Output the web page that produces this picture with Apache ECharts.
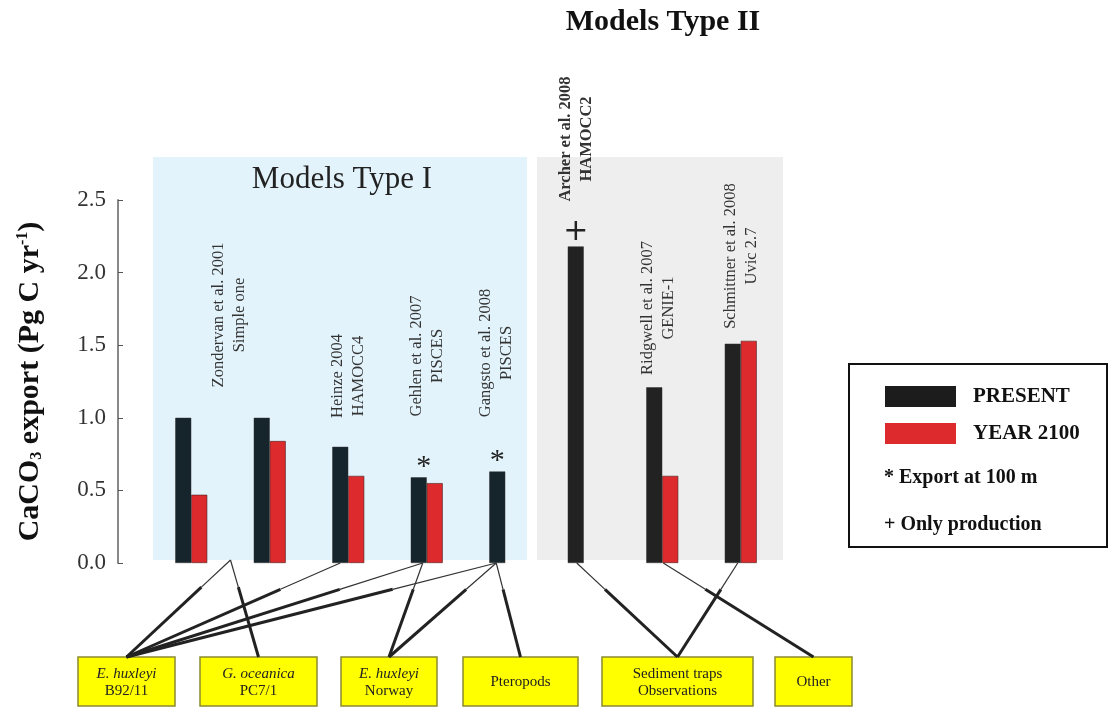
<!DOCTYPE html>
<html>
<head>
<meta charset="utf-8">
<title>CaCO3 export</title>
<script src="https://cdn.jsdelivr.net/npm/echarts@6/dist/echarts.min.js"></script>
<style>
  html, body { margin: 0; padding: 0; background: #fff; }
  #main { width: 1109px; height: 708px; }
</style>
</head>
<body>
<div id="main"></div>
<script>
// data
const categories = ['Zondervan B92/11', 'Zondervan PC7/1', 'Heinze 2004', 'Gehlen 2007',
  'Gangsto 2008', 'Archer 2008', 'Ridgwell 2007', 'Schmittner 2008'];
const presentValues = [1.0, 1.0, 0.8, 0.59, 0.63, 2.18, 1.21, 1.51];
const year2100Values = [0.47, 0.84, 0.6, 0.55, null, null, 0.6, 1.53];
const markers = ['', '', '', '*', '*', '+', '', ''];
const yTicks = [0, 0.5, 1.0, 1.5, 2.0, 2.5];

const modelLabels = [
  'Zondervan et al. 2001\nSimple one',
  'Heinze 2004\nHAMOCC4',
  'Gehlen et al. 2007\nPISCES',
  'Gangsto et al. 2008\nPISCES',
  'Archer et al. 2008\nHAMOCC2',
  'Ridgwell et al. 2007\nGENIE-1',
  'Schmittner et al. 2008\nUvic 2.7'
];
const boxLabels = [
  ['E. huxleyi', 'B92/11'],
  ['G. oceanica', 'PC7/1'],
  ['E. huxleyi', 'Norway'],
  ['', 'Pteropods'],
  ['Sediment traps', 'Observations'],
  ['', 'Other']
];
// [category index (0.5 = between first two), box index]
const links = [
  [0.5, 0], [0.5, 1], [2, 0], [3, 0], [3, 2], [4, 0], [4, 2], [4, 3],
  [5, 4], [7, 4], [6, 5]
];

const chart = echarts.init(document.getElementById('main'));
const serif = 'Liberation Serif';

const option = {
  animation: false,
  grid: { left: 152, right: 329, top: 200, bottom: 145 },
  legend: {
    orient: 'vertical',
    left: 880,
    top: 381,
    icon: 'rect',
    itemWidth: 71,
    itemHeight: 21,
    itemGap: 16,
    selectedMode: false,
    itemStyle: { borderWidth: 0 },
    data: ['PRESENT', 'YEAR 2100'],
    textStyle: { fontFamily: serif, fontWeight: 'bold', fontSize: 21, color: '#111', padding: [0, 0, 0, 12] }
  },
  xAxis: {
    type: 'category',
    data: categories,
    axisLine: { show: false },
    axisTick: { show: false },
    axisLabel: { show: false }
  },
  yAxis: {
    type: 'value',
    min: 0,
    max: 2.5,
    interval: 0.5,
    offset: 34,
    splitLine: { show: false },
    axisLine: { show: true, lineStyle: { color: '#888', width: 2 } },
    axisTick: { show: true, inside: true, length: 5, lineStyle: { color: '#555' } },
    axisLabel: {
      margin: 12,
      fontFamily: serif,
      fontSize: 23,
      color: '#333',
      formatter: v => yTicks.includes(v) ? v.toFixed(1) : ''
    },
    name: '{b|CaCO}{sub|3}{b| export (Pg C yr}{sup|-1}{b|)}',
    nameLocation: 'middle',
    nameRotate: 90,
    nameGap: 73,
    nameTextStyle: {
      rich: {
        b: { fontFamily: serif, fontWeight: 'bold', fontSize: 30, color: '#111' },
        sub: { fontFamily: serif, fontWeight: 'bold', fontSize: 16, color: '#111', verticalAlign: 'bottom', padding: [13, 0, 0, 0] },
        sup: { fontFamily: serif, fontWeight: 'bold', fontSize: 16, color: '#111', verticalAlign: 'top', padding: [0, 0, 13, 0] }
      }
    }
  },
  series: [
    {
      name: 'PRESENT',
      type: 'bar',
      barWidth: 16,
      barGap: 0,
      itemStyle: { color: '#1c1c1c' },
      data: presentValues.map((v, i) => ({
        value: v,
        itemStyle: { color: i < 5 ? '#16242c' : '#222222', borderColor: '#333', borderWidth: 0.5 },
        label: {
          show: markers[i] !== '',
          position: 'top',
          distance: markers[i] === '+' ? -1 : -5,
          offset: i === 3 ? [5, 0] : [0, 0],
          formatter: markers[i],
          fontFamily: markers[i] === '+' ? 'DejaVu Sans' : serif,
          fontSize: 30,
          color: '#222'
        }
      }))
    },
    {
      name: 'YEAR 2100',
      type: 'bar',
      barWidth: 16,
      itemStyle: { color: '#dd2a2c', borderColor: '#4a2020', borderWidth: 0.6 },
      data: year2100Values
    }
  ]
};

chart.setOption(option);

// category pixel centres, for labels and connectors
const cx = i => {
  const a = chart.convertToPixel({ xAxisIndex: 0 }, categories[Math.floor(i)]);
  if (i % 1 === 0) return a;
  const b = chart.convertToPixel({ xAxisIndex: 0 }, categories[Math.ceil(i)]);
  return a + (b - a) * (i % 1);
};
const y0 = chart.convertToPixel({ yAxisIndex: 0 }, 0);
const yTop = chart.convertToPixel({ yAxisIndex: 0 }, 2.5);

const g = [];

// panels
g.push({ type: 'rect', z: -10, shape: { x: 153, y: yTop - 43, width: 374, height: y0 - yTop + 40 }, style: { fill: '#e2f3fb' } });
g.push({ type: 'rect', z: -10, shape: { x: 537, y: yTop - 43, width: 246, height: y0 - yTop + 40 }, style: { fill: '#eeeeee' } });

// titles
g.push({ type: 'text', x: 342, y: 180, style: { text: 'Models Type I', fontFamily: serif, fontSize: 31, fill: '#222', align: 'center', verticalAlign: 'middle' } });
g.push({ type: 'text', x: 663, y: 22, style: { text: 'Models Type II', fontFamily: serif, fontWeight: 'bold', fontSize: 30, fill: '#111', align: 'center', verticalAlign: 'middle' } });

// rotated model labels: [x, centre y]
const labelPos = [
  [cx(0.5) - 1, 315], [cx(2), 376], [cx(3), 356], [cx(4) - 9, 353],
  [cx(5) - 8, 139], [cx(6) - 4, 308], [cx(7), 256]
];
modelLabels.forEach((t, i) => {
  g.push({
    type: 'text', x: labelPos[i][0], y: labelPos[i][1], rotation: Math.PI / 2,
    style: {
      text: t, fontFamily: serif, fontSize: 16.5, fill: '#333', align: 'center', verticalAlign: 'middle',
      lineHeight: 21, fontWeight: i === 4 ? 'bold' : 'normal'
    }
  });
});

// legend frame and notes
g.push({ type: 'rect', z: -5, shape: { x: 849, y: 364, width: 258, height: 183 }, style: { fill: '#fff', stroke: '#111', lineWidth: 2 } });
g.push({ type: 'text', x: 884, y: 478, style: { text: '* Export at 100 m', fontFamily: serif, fontWeight: 'bold', fontSize: 20, fill: '#111', verticalAlign: 'middle' } });
g.push({ type: 'text', x: 884, y: 525, style: { text: '+ Only production', fontFamily: serif, fontWeight: 'bold', fontSize: 20, fill: '#111', verticalAlign: 'middle' } });

// organism boxes
const boxes = [[78, 175], [200, 317], [341, 437], [463, 578], [602, 753], [775, 852]];
const boxTop = 657;
boxes.forEach((b, i) => {
  g.push({ type: 'rect', shape: { x: b[0], y: boxTop, width: b[1] - b[0], height: 49 }, style: { fill: '#ffff00', stroke: '#8a8a30', lineWidth: 1.5 } });
  const c = (b[0] + b[1]) / 2;
  const [l1, l2] = boxLabels[i];
  const italic = i < 3;
  if (l1) {
    g.push({ type: 'text', x: c, y: 674, style: { text: l1, fontFamily: serif, fontStyle: italic ? 'italic' : 'normal', fontSize: 15, fill: '#222', align: 'center', verticalAlign: 'middle' } });
    g.push({ type: 'text', x: c, y: 691, style: { text: l2, fontFamily: serif, fontSize: 15, fill: '#222', align: 'center', verticalAlign: 'middle' } });
  } else {
    g.push({ type: 'text', x: c, y: 682, style: { text: l2, fontFamily: serif, fontSize: 15, fill: '#222', align: 'center', verticalAlign: 'middle' } });
  }
});

// connectors, thin near the bars then thick
const startShift = { 0.5: 0, 2: -8, 3: -4, 4: -9, 5: -7, 6: 1, 7: -3 };
links.forEach(([ci, bi]) => {
  const x1 = cx(ci) + startShift[ci];
  const y1 = y0 + (ci === 0.5 ? -3 : 0);
  const x2 = (boxes[bi][0] + boxes[bi][1]) / 2;
  const y2 = boxTop;
  const xm = x1 + (x2 - x1) * 0.28, ym = y1 + (y2 - y1) * 0.28;
  g.push({ type: 'line', shape: { x1, y1, x2: xm, y2: ym }, style: { stroke: '#333', lineWidth: 1.2 } });
  g.push({ type: 'line', shape: { x1: xm, y1: ym, x2, y2 }, style: { stroke: '#222', lineWidth: 3 } });
});

chart.setOption({ graphic: g });
</script>
</body>
</html>
